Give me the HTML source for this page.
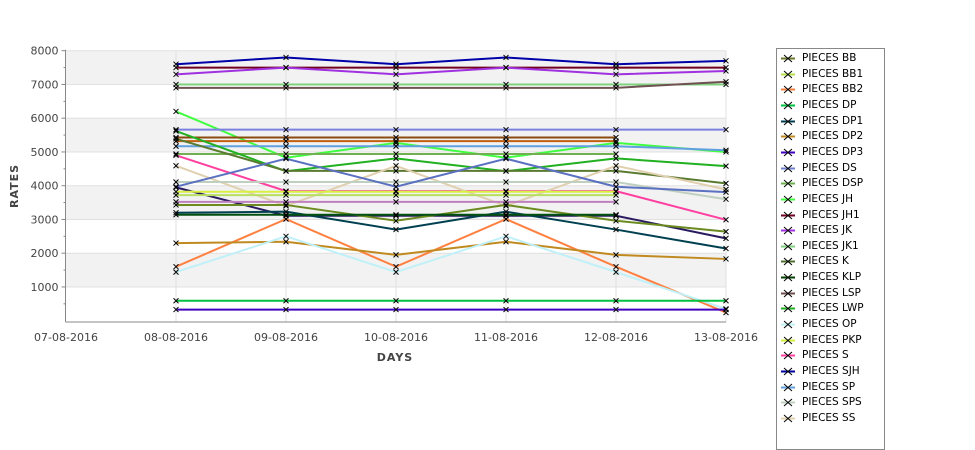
<!DOCTYPE html>
<html><head><meta charset="utf-8"><style>
html,body{margin:0;padding:0;background:#fff;width:975px;height:429px;overflow:hidden;font-family:"Liberation Sans","DejaVu Sans",sans-serif}
.legend{position:absolute;left:776px;top:48px;width:107px;height:400px;border:1px solid #888;background:#fff;font-size:11px;color:#000}
.le{position:absolute;left:0;height:14px;line-height:14px}
.le svg{position:absolute;left:3px;top:3px}
.le span{position:absolute;left:25px;white-space:nowrap;font-family:"DejaVu Sans",sans-serif;font-size:10.5px}
</style></head><body>
<svg id="chart" width="975" height="429" style="position:absolute;left:0;top:0">
<g id="bands"></g><g id="grid"></g><g id="axes"></g><g id="series"></g><g id="marks"></g>
<text transform="translate(18,186) rotate(-90)" text-anchor="middle" font-size="11" font-weight="bold" fill="#444" font-family="DejaVu Sans,sans-serif" letter-spacing="1">RATES</text>
<text x="395" y="361" text-anchor="middle" font-size="11" font-weight="bold" fill="#444" font-family="DejaVu Sans,sans-serif" letter-spacing="1">DAYS</text>
</svg>
<div class="legend" id="legend"></div>
<script>
const categories=["07-08-2016","08-08-2016","09-08-2016","10-08-2016","11-08-2016","12-08-2016","13-08-2016"];
const yTicks=[1000,2000,3000,4000,5000,6000,7000,8000];
const seriesNames=["SJH","JH1","JK","JK1","LSP","JH","DS","BRN","ORB","SP","DSP","LWP","K","S","SS","SPS","DSB","DPU","PKP","BB1","MAU","BB","DP1","KLP","BB2","DP2","OP","DP","DP3"];
const seriesColors=["#0000a8","#700020","#a030e0","#80d080","#705050","#40ff40","#7b80e0","#8b4a10","#c06010","#60a0e0","#70b050","#20b020","#5a7a30","#ff40a0","#e0d0b0","#c0d0c0","#5a70c0","#2a1a60","#d8f040","#b8e060","#c080c0","#6b8a20","#004050","#005010","#ff8040","#c08a20","#c0f0f8","#00c040","#4000c0"];
const v_SJH=[null,7600,7800,7600,7800,7600,7700];
const v_JH1=[null,7500,7500,7500,7500,7500,7500];
const v_JK=[null,7300,7500,7300,7500,7300,7400];
const v_JK1=[null,7000,7000,7000,7000,7000,7000];
const v_LSP=[null,6900,6900,6900,6900,6900,7080];
const v_JH=[null,6200,4830,5270,4830,5270,5000];
const v_DS=[null,5660,5660,5660,5660,5660,5660];
const v_BRN=[null,5430,5430,5430,5430,5430,null];
const v_ORB=[null,5320,5320,5320,5320,5320,null];
const v_SP=[null,5170,5170,5170,5170,5170,5050];
const v_DSP=[null,4940,4940,4940,4940,4940,null];
const v_LWP=[null,5620,4430,4810,4430,4810,4580];
const v_K=[null,5390,4440,4440,4440,4440,4070];
const v_S=[null,4900,3840,3840,3840,3840,2990];
const v_SS=[null,4590,3400,4590,3400,4590,3890];
const v_SPS=[null,4110,4110,4110,4110,4110,3600];
const v_DSB=[null,3970,4800,3970,4800,3970,3810];
const v_DPU=[null,3950,3110,3110,3110,3110,2440];
const v_PKP=[null,3820,3820,3820,3820,3820,null];
const v_BB1=[null,3720,3720,3720,3720,3720,null];
const v_MAU=[null,3520,3520,3520,3520,3520,null];
const v_BB=[null,3430,3430,2960,3430,2960,2640];
const v_DP1=[null,3200,3230,2700,3230,2700,2140];
const v_KLP=[null,3140,3140,3140,3140,3140,null];
const v_BB2=[null,1600,3010,1600,3010,1600,240];
const v_DP2=[null,2300,2340,1950,2340,1950,1830];
const v_OP=[null,1440,2500,1440,2500,1440,350];
const v_DP=[null,590,590,590,590,590,590];
const v_DP3=[null,330,330,330,330,330,330];
const seriesValues=[v_SJH,v_JH1,v_JK,v_JK1,v_LSP,v_JH,v_DS,v_BRN,v_ORB,v_SP,v_DSP,v_LWP,v_K,v_S,v_SS,v_SPS,v_DSB,v_DPU,v_PKP,v_BB1,v_MAU,v_BB,v_DP1,v_KLP,v_BB2,v_DP2,v_OP,v_DP,v_DP3];
const legendNames=["PIECES BB","PIECES BB1","PIECES BB2","PIECES DP","PIECES DP1","PIECES DP2","PIECES DP3","PIECES DS","PIECES DSP","PIECES JH","PIECES JH1","PIECES JK","PIECES JK1","PIECES K","PIECES KLP","PIECES LSP","PIECES LWP","PIECES OP","PIECES PKP","PIECES S","PIECES SJH","PIECES SP","PIECES SPS","PIECES SS"];
const legendColors=["#6b7a2a","#b5e04a","#f08040","#00c040","#003f50","#c08a20","#4000c0","#7080d0","#70b050","#40ff40","#700020","#a030e0","#80d080","#507030","#004000","#705050","#20b020","#c0f0f8","#d0f040","#ff40a0","#0000a0","#60a0e0","#c0d0c0","#e0d0b0"];

const NS="http://www.w3.org/2000/svg";
const X0=65.5,X1=726,Y0=50.7,PB=322;
function xs(i){return 66+i*110;}
function ys(v){return Y0+(8000-v)*0.03375;}
function mk(tag,attrs,parent){const e=document.createElementNS(NS,tag);for(const k in attrs)e.setAttribute(k,attrs[k]);parent.appendChild(e);return e;}
const bands=document.getElementById('bands'),grid=document.getElementById('grid'),axes=document.getElementById('axes'),ser=document.getElementById('series'),marks=document.getElementById('marks');
mk('rect',{x:X0,y:Y0,width:X1-X0,height:PB-Y0,fill:'#fff'},bands);
for(let k=0;k<8;k++){const hi=8000-k*1000,lo=hi-1000;const r=mk('rect',{x:X0,y:ys(hi),width:X1-X0,height:ys(lo)-ys(hi),fill:(k%2==0)?'#f2f2f2':'#ffffff'},bands);

}
for(let i=1;i<categories.length;i++){const l=mk('line',{x1:xs(i),x2:xs(i),y1:Y0,y2:PB,stroke:'#e0e0e0','stroke-width':1},grid);

}
yTicks.forEach(v=>{const l=mk('line',{x1:X0,x2:X1,y1:ys(v),y2:ys(v),stroke:'#e0e0e0','stroke-width':1},grid);


mk('line',{x1:X0-4,x2:X0,y1:ys(v),y2:ys(v),stroke:'#888'},axes);
const t=mk('text',{x:X0-7,y:ys(v)+4,'text-anchor':'end','font-size':11,fill:'#444','font-family':'DejaVu Sans,sans-serif'},axes);t.textContent=v;


mk('line',{x1:X0-2,x2:X0,y1:ys(v-500),y2:ys(v-500),stroke:'#888'},axes);});
mk('line',{x1:X0,x2:X0,y1:Y0-1,y2:PB,stroke:'#888'},axes);
mk('line',{x1:X0,x2:X1,y1:PB,y2:PB,stroke:'#888'},axes);
categories.forEach((c,i)=>{const t=mk('text',{x:xs(i),y:341,'text-anchor':'middle','font-size':11,fill:'#444','font-family':'DejaVu Sans,sans-serif'},axes);t.textContent=c;

});
seriesValues.forEach((vals,s)=>{let d='';let started=false;vals.forEach((v,i)=>{if(v==null){started=false;return;}d+=(started?'L':'M')+xs(i)+','+ys(v);started=true;});
const p=mk('path',{d:d,fill:'none',stroke:seriesColors[s],'stroke-width':2},ser);


vals.forEach((v,i)=>{if(v==null)return;const x=xs(i),y=ys(v);
const m=mk('path',{d:`M${x-2.5},${y-2.5}L${x+2.5},${y+2.5}M${x-2.5},${y+2.5}L${x+2.5},${y-2.5}`,stroke:'#000','stroke-width':1},marks);

});});
const lg=document.getElementById('legend');
legendNames.forEach((n,i)=>{const d=document.createElement('div');d.className='le';d.style.top=(2+i*15.65)+'px';


d.innerHTML=`<svg width="16" height="9"><line x1="1" y1="4.5" x2="15" y2="4.5" stroke="${legendColors[i]}" stroke-width="2"/><path d="M4,1L12,8M4,8L12,1" stroke="#000" stroke-width="1"/></svg><span>${n}</span>`;lg.appendChild(d);});
</script>
</body></html>
